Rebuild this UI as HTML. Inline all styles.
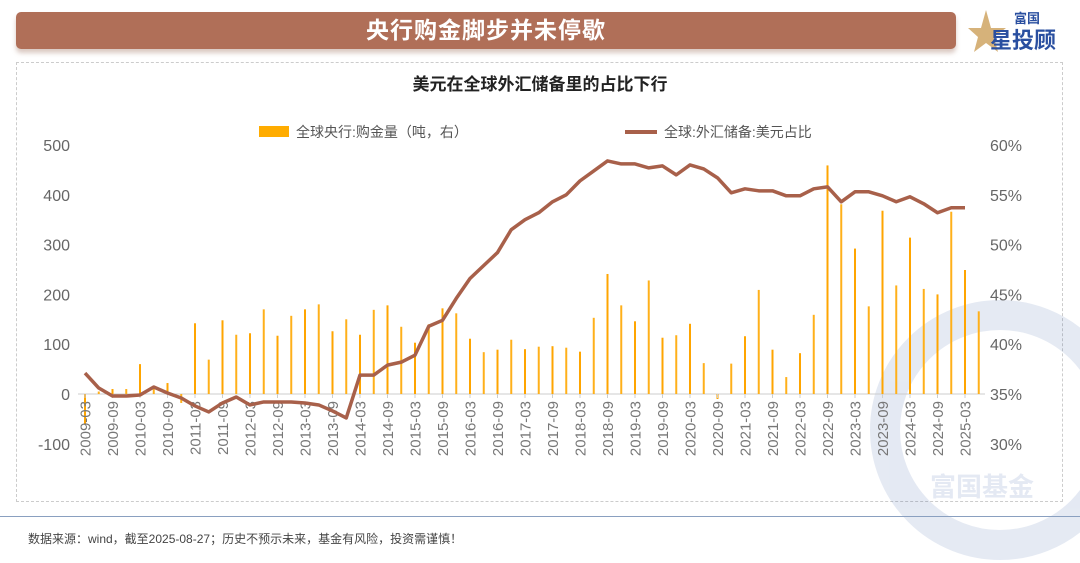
<!DOCTYPE html>
<html><head><meta charset="utf-8">
<style>
body{margin:0;width:1080px;height:563px;background:#fff;overflow:hidden;font-family:"Liberation Sans","Noto Sans CJK SC",sans-serif;position:relative}
.banner{position:absolute;left:16px;top:12px;width:940px;height:37px;background:#b06f58;border-radius:5px;box-shadow:0 4px 5px rgba(150,100,80,0.35);color:#fff;font-weight:bold;font-size:23px;text-align:center;line-height:37px;letter-spacing:1px}
.logo{position:absolute;left:968px;top:6px;width:105px;height:48px}
.box{position:absolute;left:16px;top:62px;width:1045px;height:438px;border:1px dashed #ccc}
.foot-line{position:absolute;left:0;top:516px;width:1080px;height:1px;background:#8aa0c0}
.foot{position:absolute;left:28px;top:530px;font-size:12px;color:#444}
</style></head><body>
<div class="banner">央行购金脚步并未停歇</div>
<div class="logo">
<svg width="105" height="48"><polygon points="18,4 23,22 38,22 26,31 30,46 18,37 6,46 10,31 0,22 13,22" fill="#d6b27a"/>
<text x="46" y="17" font-size="13" font-weight="bold" fill="#2a4fa0" font-family="Liberation Sans,Noto Sans CJK SC,sans-serif">富国</text>
<text x="22" y="42" font-size="22" font-weight="bold" fill="#2a4fa0" font-family="Liberation Sans,Noto Sans CJK SC,sans-serif">星投顾</text></svg></div>
<div class="box"></div>
<svg id="chart" width="1080" height="563" style="position:absolute;left:0;top:0"></svg>
<div class="foot-line"></div>
<div class="foot">数据来源：wind，截至2025-08-27；历史不预示未来，基金有风险，投资需谨慎！</div>
<script>
const startYear=2009;
const goldBuying=[-60,5,10,10,60,15,22,-18,142,69,148,119,122,170,117,157,170,180,126,150,119,169,178,135,103,140,172,162,111,84,89,109,90,95,96,93,85,153,241,178,146,228,113,118,141,62,-10,61,116,209,89,34,82,159,459,381,292,176,368,218,314,211,200,366,249,166];
const usdShare=[37.1,35.6,34.8,34.8,34.9,35.7,35.1,34.6,33.8,33.2,34.1,34.7,33.9,34.2,34.2,34.2,34.1,33.9,33.3,32.6,36.9,36.9,37.9,38.2,38.9,41.8,42.4,44.6,46.6,47.9,49.2,51.5,52.5,53.2,54.3,55.0,56.4,57.4,58.4,58.1,58.1,57.7,57.9,57.0,58.0,57.6,56.7,55.2,55.6,55.4,55.4,54.9,54.9,55.6,55.8,54.3,55.3,55.3,54.9,54.3,54.8,54.1,53.2,53.7,53.7];
const leftTicks=[-100,0,100,200,300,400,500];
const rightTicks=[30,35,40,45,50,55,60];
const NS='http://www.w3.org/2000/svg';
const svg=document.getElementById('chart');
function el(t,a,p){const e=document.createElementNS(NS,t);for(const k in a)e.setAttribute(k,a[k]);(p||svg).appendChild(e);return e;}
const x0=85,step=13.75;
const xs=i=>x0+i*step;
const yL=v=>394-v*0.498;
const yR=v=>394-(v-35)*9.96;
const wm=el('g',{opacity:0.12});


el('circle',{cx:1000,cy:430,r:115,fill:'none',stroke:'#2a4fa0','stroke-width':30},wm);
const wt=el('text',{x:930,y:496,'font-size':26,'font-weight':'bold',fill:'#2a4fa0'},wm);wt.textContent='富国基金';
const st=el('text',{x:540,y:90,'text-anchor':'middle','font-size':17,'font-weight':'bold',fill:'#222'});


st.textContent='美元在全球外汇储备里的占比下行';
const lg1=el('rect',{x:259,y:126,width:30,height:11,fill:'#ffac00'});


const lt1=el('text',{x:296,y:137,'font-size':14,fill:'#555'});


lt1.textContent='全球央行:购金量（吨，右）';
const lg2=el('line',{x1:625,y1:132,x2:657,y2:132,stroke:'#a8604a','stroke-width':4});


const lt2=el('text',{x:664,y:137,'font-size':14,fill:'#555'});


lt2.textContent='全球:外汇储备:美元占比';
leftTicks.forEach(v=>{const t=el('text',{x:70,y:yL(v)+6,'text-anchor':'end','font-size':16,fill:'#666'});


t.textContent=v;});
rightTicks.forEach(v=>{const t=el('text',{x:990,y:yR(v)+6,'font-size':16,fill:'#666'});


t.textContent=v+'%';});
const ax=el('line',{x1:78,y1:394,x2:985,y2:394,stroke:'#ccc','stroke-width':1});


goldBuying.forEach((v,i)=>{const y=Math.min(yL(0),yL(v)),h=Math.abs(yL(v)-yL(0));
const b=el('rect',{x:xs(i)-1,y:y,width:2,height:Math.max(h,0.5),fill:i%2?'#ffb01a':'#ffa500'});

});
for(let i=0;i<goldBuying.length;i+=2){const yr=startYear+Math.floor(i/4),q=i%4;const lab=yr+'-'+(q===0?'03':'09');
el('line',{x1:xs(i),y1:394,x2:xs(i),y2:398,stroke:'#ccc'});
const t=el('text',{x:0,y:0,'font-size':15,fill:'#777','text-anchor':'end',transform:`translate(${xs(i)+5.5},401) rotate(-90)`});


t.textContent=lab;}
const ln=el('polyline',{points:usdShare.map((v,i)=>xs(i)+','+yR(v)).join(' '),fill:'none',stroke:'#a8604a','stroke-width':3.5,'stroke-linejoin':'round'});


</script>
</body></html>
